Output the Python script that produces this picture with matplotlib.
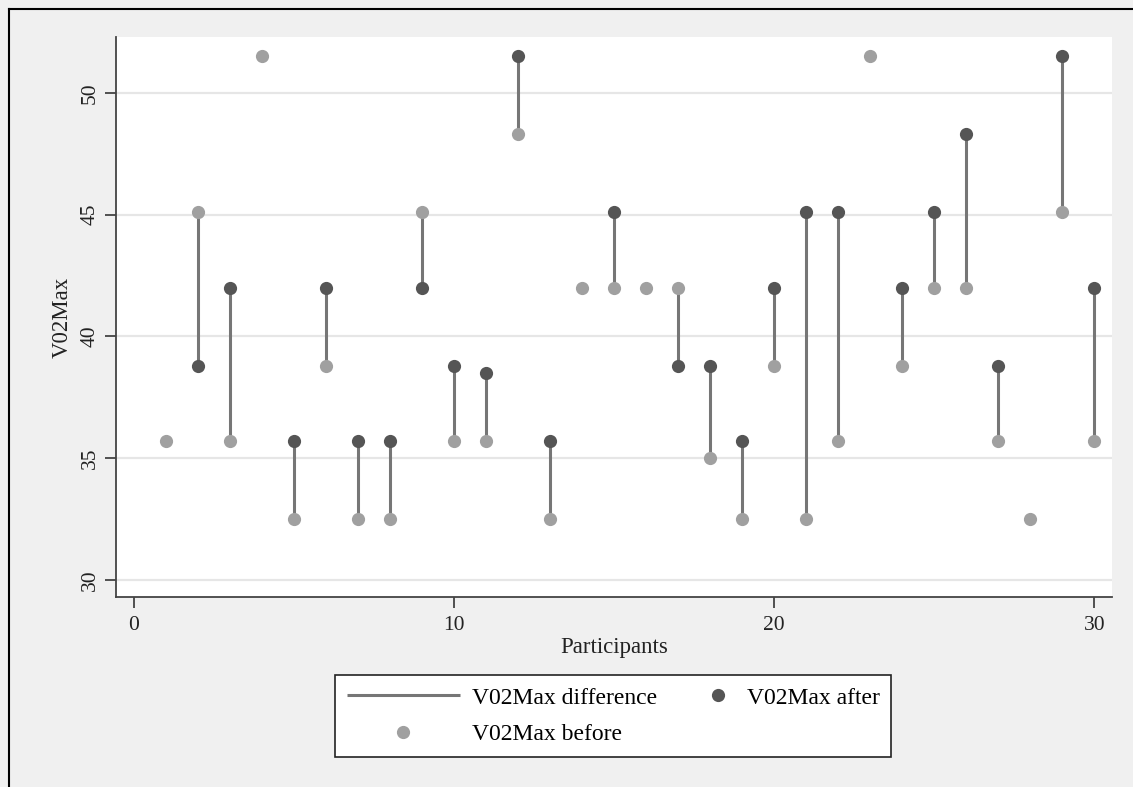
import numpy as np
import matplotlib
matplotlib.use("Agg")
import matplotlib.pyplot as plt
from matplotlib.lines import Line2D
from matplotlib.legend_handler import HandlerLine2D

# data
participants = list(range(1, 31))
vo2_before = [35.7, 45.1, 35.7, 51.5, 32.5, 38.8, 32.5, 32.5, 45.1, 35.7,
              35.7, 48.3, 32.5, 42.0, 42.0, 42.0, 42.0, 35.0, 32.5, 38.8,
              32.5, 35.7, 51.5, 38.8, 42.0, 42.0, 35.7, 32.5, 45.1, 35.7]
vo2_after = [35.7, 38.8, 42.0, 51.5, 35.7, 42.0, 35.7, 35.7, 42.0, 38.8,
             38.5, 51.5, 35.7, 42.0, 45.1, 42.0, 38.8, 38.8, 35.7, 42.0,
             45.1, 45.1, 51.5, 42.0, 45.1, 48.3, 38.8, 32.5, 51.5, 42.0]

bg = "#f0f0f0"
c_line = "#767676"
c_after = "#555555"
c_before = "#a0a0a0"


class RightMarker(HandlerLine2D):
    # puts the marker near the right end of the handle box
    def get_xdata(self, legend, xdescent, ydescent, width, height, fontsize):
        p = -xdescent + width - 12
        return np.array([p, p]), np.array([p])


plt.rcParams['font.family'] = ['Liberation Serif', 'DejaVu Serif']

W, H = 1133, 787
fig = plt.figure(figsize=(W / 100, H / 100), dpi=100, facecolor=bg)
ax = fig.add_axes([116 / W, 1 - 597 / H, (1112 - 116) / W, (597 - 37) / H])
ax.set_facecolor("white")

x = np.array(participants)
before = np.array(vo2_before)
after = np.array(vo2_after)
# after points equal to before sit hidden under them
after_shown = np.where(after != before, after, np.nan)

ax.vlines(x, before, after, color=c_line, lw=2.2, zorder=2,
          label="V02Max difference")
ax.plot(x, after_shown, "o", color=c_after, ms=9.5, mew=0, zorder=3,
        label="V02Max after")
ax.plot(x, before, "o", color=c_before, ms=9.5, mew=0, zorder=4,
        label="V02Max before")

ax.set_xlim(-0.56, 30.55)
ax.set_ylim(29.3, 52.3)
ax.set_xticks([0, 10, 20, 30])
ax.set_yticks([30, 35, 40, 45, 50])
ax.yaxis.grid(True, color="#e6e6e6", lw=1.6, zorder=0)
ax.set_axisbelow(True)

for s in ["top", "right"]:
    ax.spines[s].set_visible(False)
for s in ["left", "bottom"]:
    ax.spines[s].set_color("#444444")
    ax.spines[s].set_linewidth(1.3)
ax.tick_params(axis="both", length=8, width=1.3, color="#444444",
               labelsize=15.5, labelcolor="#222222")
ax.tick_params(axis="x", pad=6)
for lab in ax.get_yticklabels():
    lab.set_rotation(90)
    lab.set_va("center")

ax.set_xlabel("Participants", fontsize=16.5, color="#222222", labelpad=1)
ax.set_ylabel("V02Max", fontsize=16.5, color="#222222", labelpad=6)

h, l = ax.get_legend_handles_labels()
# column-first fill: difference, before | after
order = [0, 2, 1]
leg = fig.legend([h[i] for i in order], [l[i] for i in order], ncol=2,
                 loc="center", bbox_to_anchor=(613 / W, 1 - 716 / H),
                 fontsize=17, frameon=True, fancybox=False, framealpha=1,
                 edgecolor="#222222", facecolor="white", handlelength=4.8,
                 columnspacing=-1.5, handletextpad=0.5, borderpad=0.5,
                 labelspacing=0.62, handler_map={h[1]: RightMarker()})
leg.get_frame().set_linewidth(1.2)

# screenshot border on top and left
fig.add_artist(Line2D([9 / W, 1], [1 - 9 / H, 1 - 9 / H], color="black", lw=1.5))
fig.add_artist(Line2D([9 / W, 9 / W], [0, 1 - 9 / H], color="black", lw=1.5))

fig.savefig("out.png", dpi=100, facecolor=bg)
